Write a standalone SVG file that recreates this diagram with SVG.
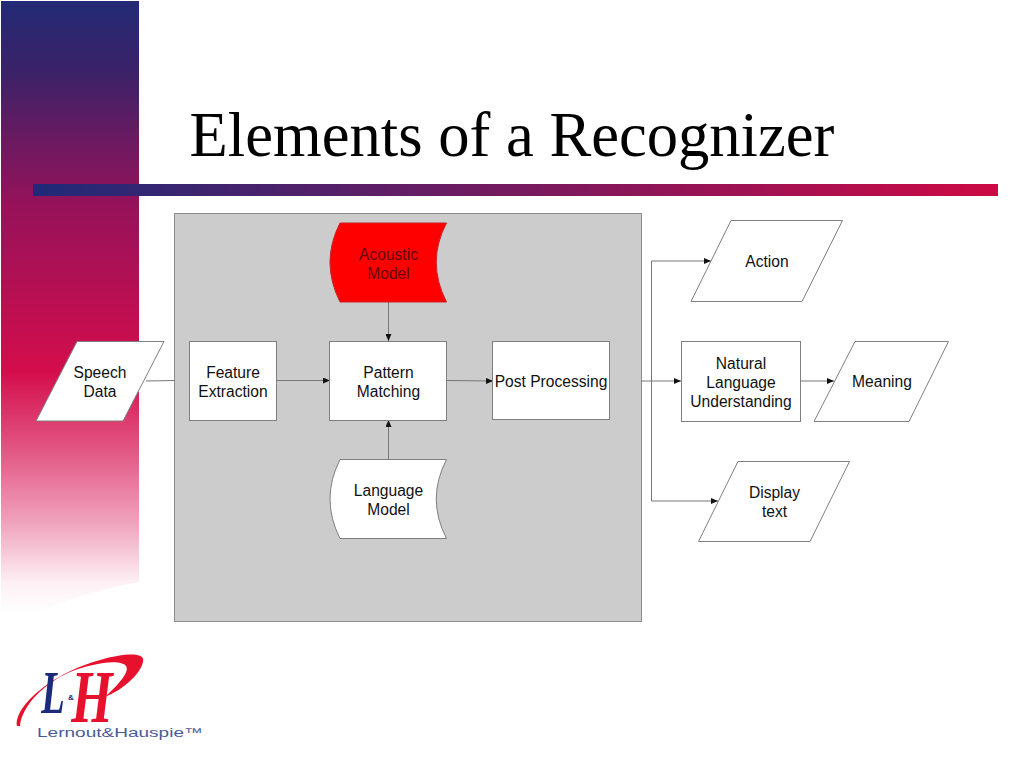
<svg xmlns="http://www.w3.org/2000/svg" width="1024" height="768" viewBox="0 0 1024 768">
<style>
text{font-family:"Liberation Sans",Arial,sans-serif;font-size:15.6px;fill:#111;text-anchor:middle}
.n{fill:#fff;stroke:#7f7f7f;stroke-width:1}
.c{fill:none;stroke:#777;stroke-width:1}
.serif{font-family:"Liberation Serif",serif;font-style:italic;font-weight:bold}
</style>
<defs>
<linearGradient id="side" gradientUnits="userSpaceOnUse" x1="0" y1="0" x2="0" y2="640">
<stop offset="0" stop-color="#232a75"/>
<stop offset=".11" stop-color="#3a2268"/>
<stop offset=".32" stop-color="#96125a"/>
<stop offset=".58" stop-color="#d40d4c"/>
<stop offset=".7" stop-color="#e25482"/>
<stop offset=".82" stop-color="#f0a5bf"/>
<stop offset=".91" stop-color="#fdf0f5"/>
<stop offset=".96" stop-color="#fff"/>
</linearGradient>
<linearGradient id="bar" x1="0" y1="0" x2="1" y2="0">
<stop offset="0" stop-color="#1f2a78"/>
<stop offset="1" stop-color="#cc0a45"/>
</linearGradient>
<marker id="a" markerWidth="7" markerHeight="6" refX="7" refY="3" orient="auto" markerUnits="userSpaceOnUse"><path d="M0 0L7 3L0 6Z" fill="#111"/></marker>
</defs>
<rect width="1024" height="768" fill="#fff"/>
<path d="M1 1H139V582Q60 596 1 632Z" fill="url(#side)"/>
<rect x="33" y="184" width="965" height="12" fill="url(#bar)"/>
<text x="512" y="155.500" style="font-family:'Liberation Serif',serif;font-size:62.6px;fill:#000">Elements of a Recognizer</text>
<rect id="panel" x="174.500" y="213.500" width="467" height="408" fill="#ccc" stroke="#8c8c8c"/>
<g id="connectors">
<path class="c" d="M146 381L175 380.500"/>
<path class="c" d="M276 380.500H330" marker-end="url(#a)"/>
<path class="c" d="M388.500 302V341" marker-end="url(#a)"/>
<path class="c" d="M388.500 459V420" marker-end="url(#a)"/>
<path class="c" d="M446 380.500L493 381" marker-end="url(#a)"/>
<path class="c" d="M641 381H681" marker-end="url(#a)"/>
<path class="c" d="M651.500 381V261H711" marker-end="url(#a)"/>
<path class="c" d="M651.500 381V501H718" marker-end="url(#a)"/>
<path class="c" d="M800 381H834" marker-end="url(#a)"/>
</g>
<g id="speech-data"><path class="n" d="M77 341.500H164L123 421H36Z"/><text x="100" y="378">Speech</text><text x="100" y="396.500">Data</text></g>
<g id="feature-extraction"><rect class="n" x="189.500" y="341.500" width="87" height="79"/><text x="233" y="378">Feature</text><text x="233" y="396.500">Extraction</text></g>
<g id="acoustic-model"><path d="M340 223H446.500Q426 262 446.500 302H340Q320 262 340 223Z" fill="#f00" stroke="#c22"/><text x="388.500" y="259.500" style="fill:#600">Acoustic</text><text x="388.500" y="278.500" style="fill:#600">Model</text></g>
<g id="pattern-matching"><rect class="n" x="329.500" y="341.500" width="117" height="79"/><text x="388.500" y="378">Pattern</text><text x="388.500" y="396.500">Matching</text></g>
<g id="language-model"><path class="n" d="M340 459.500H446.500Q426 499 446.500 538.500H340Q320 499 340 459.500Z"/><text x="388.500" y="496">Language</text><text x="388.500" y="514.500">Model</text></g>
<g id="post-processing"><rect class="n" x="492.500" y="341.500" width="117" height="78"/><text x="551" y="386.500">Post Processing</text></g>
<g id="action"><path class="n" d="M731 220.500H842.500L802 301.500H691Z"/><text x="767" y="267">Action</text></g>
<g id="nlu"><rect class="n" x="681.500" y="341.500" width="119" height="80"/><text x="741" y="368.500">Natural</text><text x="741" y="387.500">Language</text><text x="741" y="406.500">Understanding</text></g>
<g id="meaning"><path class="n" d="M855 341.500H948.500L909 421.500H814Z"/><text x="882" y="387">Meaning</text></g>
<g id="display-text"><path class="n" d="M738 461.500H849.500L810 541.500H698.500Z"/><text x="774.500" y="498">Display</text><text x="774.500" y="516.500">text</text></g>
<g id="logo">
<path d="M17 726C14 705 55 672 100 660C125 653 146 652 143 662C140 675 122 690 105 697C118 685 130 672 126 666C120 658 90 664 70 672C45 683 22 705 20 726Z" fill="#e8112d"/>
<text transform="translate(53 713) scale(.62 1)" class="serif" style="font-size:62px;fill:#1b2a7a">L</text>
<text transform="translate(92 722) scale(.72 1)" class="serif" style="font-size:74px;fill:#e8112d">H</text>
<text x="71" y="700" style="font-weight:bold;font-size:8px;fill:#1b2a7a">&amp;</text>
<text x="120" y="737" textLength="166" lengthAdjust="spacingAndGlyphs" style="font-size:12.500px;fill:#4a5a9a">Lernout&amp;Hauspie™</text>
</g>
</svg>
